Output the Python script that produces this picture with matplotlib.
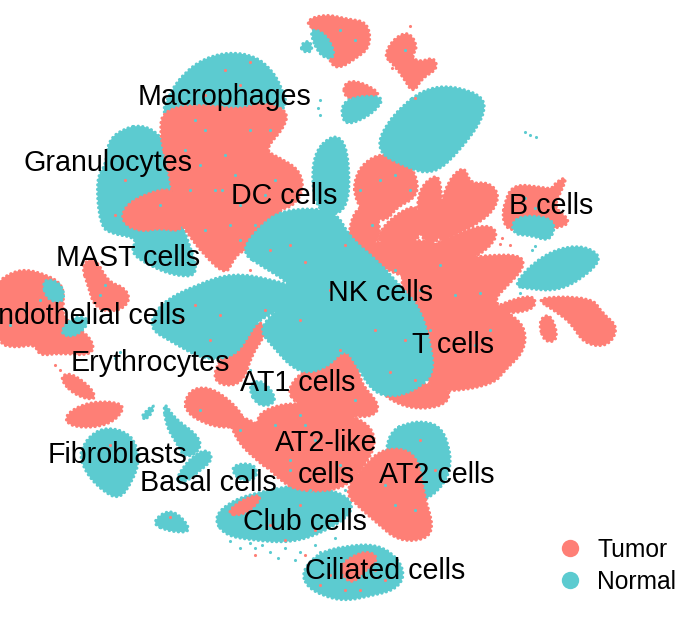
# tSNE map of lung cells, tumor vs normal. Cluster outlines and single cells read
# off the picture by eye: dense parts are filled outlines, stray cells are points
import matplotlib
matplotlib.use("Agg")
import matplotlib.pyplot as plt
from matplotlib.lines import Line2D
from matplotlib.patches import PathPatch
from matplotlib.path import Path

plt.rcParams['font.family'] = ['Liberation Sans', 'DejaVu Sans']

group_names = ["Tumor", "Normal"]
tumor_color = "#FE7F76"
normal_color = "#5CCBD0"

# normal clusters that sit under the tumor cells
macrophage_cap = [(160,118),(170,92),(185,72),(205,58),(230,52),(255,56),(272,70),(282,88),(288,108),(262,122),(230,118),(200,122)]
granulocytes_n = [(142,125),(158,133),(168,150),(172,195),(186,235),(200,276),(175,276),(148,265),(130,252),(138,238),(112,234),(100,226),(96,178),(106,165),(108,140),(125,128)]
at2_n = [(405,424),(422,421),(440,426),(449,445),(451,467),(443,486),(425,501),(405,500),(385,482),(386,445),(393,430)]
club_n = [(213,517),(233,500),(260,492),(300,484),(348,494),(354,513),(322,533),(290,543),(250,540),(224,535)]
ciliated_n = [(302,571),(318,553),(345,546),(377,544),(398,558),(405,576),(395,590),(370,596),(345,601),(323,596),(306,586)]
normal_back = [macrophage_cap, granulocytes_n, at2_n, club_n, ciliated_n]

# tumor clusters
macrophage_t = [(160,135),(162,110),(200,104),(240,110),(262,102),(288,110),(285,127),(264,150),(280,158),(300,170),(304,191),(292,207),(277,210),(277,242),(245,249),(234,258),(226,276),(203,254),(188,234),(176,216),(173,195),(167,165)]
granulocytes_t = [(121,222),(125,206),(145,194),(174,187),(182,215),(182,232),(160,228),(140,232)]
fan_a = [(354,180),(364,162),(385,152),(410,163),(419,185),(414,199),(397,207),(386,222),(366,216),(355,199)]
fan_b = [(349,224),(360,204),(379,213),(380,245),(350,252)]
fan_c = [(379,230),(402,210),(420,205),(422,240),(395,250),(380,246)]
fan_d = [(419,242),(416,192),(437,172),(442,190),(443,243)]
fan_e = [(433,244),(444,186),(464,164),(470,184),(488,182),(499,193),(495,209),(479,223),(458,234)]
fan_f = [(422,250),(462,231),(490,224),(499,236),(480,256),(445,268)]
fan_base = [(348,243),(440,238),(455,265),(420,283),(375,265)]
t_body = [(405,265),(430,257),(470,258),(490,255),(522,255),(524,268),(508,285),(492,302),(514,316),(526,330),(524,352),(505,370),(494,384),(452,392),(425,388),(420,320),(400,290)]
t_right_a = [(494,306),(535,293),(535,311),(494,314)]
t_right_b = [(533,297),(592,297),(602,313),(619,327),(608,347),(584,344),(571,323),(555,311)]
t_right_c = [(538,320),(551,313),(559,340),(544,343)]
b_cells_t = [(505,200),(514,184),(540,187),(552,189),(556,182),(568,176),(557,200),(555,208),(572,222),(556,229),(510,232),(502,220)]
top_t = [(304,21),(325,14),(347,19),(368,22),(371,46),(357,58),(335,71),(326,52),(318,33)]
top_right_t = [(384,56),(393,39),(409,31),(418,47),(411,57),(420,62),(434,57),(438,69),(422,78),(413,94),(403,77),(392,63)]
small_t = [(345,81),(362,82),(383,95),(362,102),(343,97)]
endothelial_t = [(-4,284),(8,274),(25,269),(47,275),(62,284),(64,300),(62,318),(93,338),(93,356),(60,353),(39,356),(35,344),(15,348),(-4,343)]
mast_t = [(81,264),(95,257),(108,282),(124,287),(131,300),(118,312),(95,309),(88,286)]
fibro_t_a = [(59,378),(70,372),(92,388),(96,401),(74,395)]
fibro_t_b = [(65,414),(90,401),(126,403),(117,420),(95,428),(68,426)]
at1_strip = [(259,318),(267,333),(252,354),(243,384),(220,386),(212,373),(231,345)]
at1_low = [(184,401),(194,387),(216,389),(243,413),(243,426),(220,428),(199,421),(187,412)]
at1_link = [(225,411),(256,422),(278,440),(274,474),(254,458),(237,441)]
at2like_t = [(254,420),(269,407),(300,402),(341,412),(368,423),(376,440),(370,458),(351,483),(331,491),(300,491),(283,483),(262,462)]
at2like_up = [(284,384),(344,344),(358,344),(358,381),(381,405),(372,418),(340,415),(298,408)]
nk_under = [(372,383),(448,383),(450,403),(422,410),(393,403)]
at2_t = [(344,492),(362,468),(384,447),(417,452),(424,495),(434,527),(425,540),(398,541),(377,523),(360,508)]
club_t = [(226,513),(243,499),(262,494),(256,506),(240,516)]
ciliated_t = [(342,562),(366,550),(380,558),(364,572),(352,584),(342,575)]
tumor_areas = [macrophage_t, granulocytes_t, fan_a, fan_b, fan_c, fan_d, fan_e, fan_f, fan_base, t_body,
               t_right_a, t_right_b, t_right_c, b_cells_t, top_t, top_right_t, small_t, endothelial_t,
               mast_t, fibro_t_a, fibro_t_b, at1_strip, at1_low, at1_link, at2like_t, at2like_up,
               nk_under, at2_t, club_t, ciliated_t]

# normal clusters on top
nk_n = [(240,252),(260,226),(283,209),(335,209),(350,238),(377,260),(402,288),(420,308),(431,345),(434,374),(417,389),(395,397),(373,393),(356,364),(345,348),(326,369),(298,374),(272,346),(258,328),(283,305),(293,285),(263,267)]
wing_n = [(160,303),(198,284),(233,273),(270,279),(298,288),(285,308),(258,320),(248,337),(234,357),(204,360),(172,342),(148,328)]
column_n = [(335,132),(349,150),(349,214),(315,214),(311,155)]
small_n = [(342,98),(384,95),(378,109),(358,122),(342,124)]
oval_n = [(432,83),(482,93),(486,115),(458,153),(433,175),(405,167),(374,150),(392,114)]
band_n = [(512,285),(543,254),(578,244),(602,255),(592,271),(561,291),(528,289)]
b_cells_n = [(512,220),(530,215),(556,220),(551,242),(530,235),(514,235)]
fibro_n = [(78,450),(100,426),(132,433),(140,460),(132,482),(120,499),(105,493),(86,474)]
strand_n = [(163,400),(174,418),(199,436),(201,450),(185,459),(176,442),(166,426)]
basal_n = [(174,482),(188,460),(206,448),(214,459),(197,473),(186,482)]
island_n = [(150,523),(172,507),(194,532),(170,532)]
sliver_n = [(139,418),(156,402),(149,419)]
endo_n_a = [(42,278),(62,283),(65,303),(46,300)]
endo_n_b = [(58,333),(75,315),(92,320),(75,338)]
at1_n = [(247,385),(263,379),(279,402),(258,408)]
club_left_n = [(230,465),(255,463),(258,479),(238,481)]
top_n = [(308,28),(326,33),(337,58),(320,58)]
top_left_n = [(301,44),(310,40),(313,52),(302,52)]
normal_front = [nk_n, wing_n, column_n, small_n, oval_n, band_n, b_cells_n, fibro_n, strand_n, basal_n,
                island_n, sliver_n, endo_n_a, endo_n_b, at1_n, club_left_n, top_n, top_left_n]

# single cells scattered over and around the clusters
tumor_cells = [
    (290,245),(305,262),(345,245),(330,290),(300,320),(340,350),(375,330),(405,340),(265,310),(220,315),
    (195,305),(250,270),(270,250),(390,372),(415,380),(225,70),(240,85),(205,95),(250,62),(125,180),
    (140,205),(115,215),(270,525),(300,505),(285,540),(315,530),(330,520),(420,440),(435,470),
    (375,570),(360,590),(170,517),(110,445),(60,320),(210,340),(180,320),(255,555),(305,555),
    (55,365),(60,370),(502,238),(510,245),(500,244),(410,26),(392,68),(415,98),(470,345),
    (330,575),(320,585),(385,580),(345,590),
]
normal_cells = [
    (205,130),(225,155),(250,130),(190,190),(215,190),(240,205),(265,195),(240,240),(205,230),(160,205),
    (275,180),(420,290),(395,270),(440,265),(430,330),(475,345),(315,440),(290,460),(340,465),(305,425),
    (250,370),(245,335),(200,410),(395,505),(385,485),(415,510),(25,310),(40,300),(10,325),(100,295),
    (105,285),(340,30),(355,40),(405,50),(525,198),(535,208),(410,190),(380,180),(372,225),(455,295),
    (490,330),(395,395),(355,400),(300,415),(275,425),(240,430),
    (320,100),(318,108),(320,115),(525,132),(530,135),(536,137),(535,246),(532,250),(520,293),(480,293),
    (240,548),(255,548),(270,552),(285,548),(300,552),(315,545),(335,538),(262,545),(278,558),(295,560),
    (320,552),(250,543),(230,541),(290,470),(310,490),(345,490),(190,460),(115,358),(120,352),
    (185,150),(235,175),(200,165),(255,225),(195,120),(270,130),(360,190),(395,175),(230,225),(222,190),
]

fig = plt.figure(figsize=(6.9, 6.19), dpi=100)
ax = fig.add_axes([0, 0, 1, 1])


def draw_areas(areas, color):
    for area in areas:
        # outline points become curve controls, so corners come out rounded
        mids = [((a[0] + b[0]) / 2, (a[1] + b[1]) / 2) for a, b in zip(area, area[1:] + area[:1])]
        verts = [mids[-1]]
        codes = [Path.MOVETO]
        for i, ctrl in enumerate(area):
            verts += [ctrl, mids[i]]
            codes += [Path.CURVE3, Path.CURVE3]
        # dotted rim so the edges look like loose points
        ax.add_patch(PathPatch(Path(verts, codes), facecolor=color, edgecolor=color, linewidth=2.2,
                               linestyle=(0, (0.1, 1.4)), capstyle="round"))


def draw_cells(cells, color):
    xs, ys = zip(*cells)
    ax.scatter(xs, ys, s=5, c=color, linewidths=0)


draw_areas(normal_back, normal_color)
draw_areas(tumor_areas, tumor_color)
draw_areas(normal_front, normal_color)
draw_cells(tumor_cells, tumor_color)
draw_cells(normal_cells, normal_color)

ax.set_xlim(0, 690)
ax.set_ylim(619, 0)
ax.axis("off")

labels = [
    ("Macrophages", 224, 97), ("Granulocytes", 108, 163), ("DC cells", 284, 196),
    ("B cells", 551, 206), ("MAST cells", 128, 258), ("NK cells", 380, 293),
    ("Endothelial cells", 82, 316), ("T cells", 453, 345), ("Erythrocytes", 150, 363),
    ("AT1 cells", 298, 383), ("AT2-like\ncells", 326, 459), ("AT2 cells", 437, 475),
    ("Fibroblasts", 117, 455), ("Basal cells", 208, 483), ("Club cells", 305, 522),
    ("Ciliated cells", 385, 571),
]
for name, x, y in labels:
    ax.text(x, y, name, fontsize=20.6, ha="center", va="center", color="black")

handles = [
    Line2D([], [], marker="o", linestyle="", color=tumor_color, markersize=12.5, markeredgewidth=0),
    Line2D([], [], marker="o", linestyle="", color=normal_color, markersize=12.5, markeredgewidth=0),
]
ax.legend(handles, group_names, loc="lower right", frameon=False, fontsize=17.7,
          bbox_to_anchor=(0.98, 0.041), handletextpad=0.1, labelspacing=0.32,
          borderpad=0, borderaxespad=0)

fig.savefig("out.png", dpi=100)
